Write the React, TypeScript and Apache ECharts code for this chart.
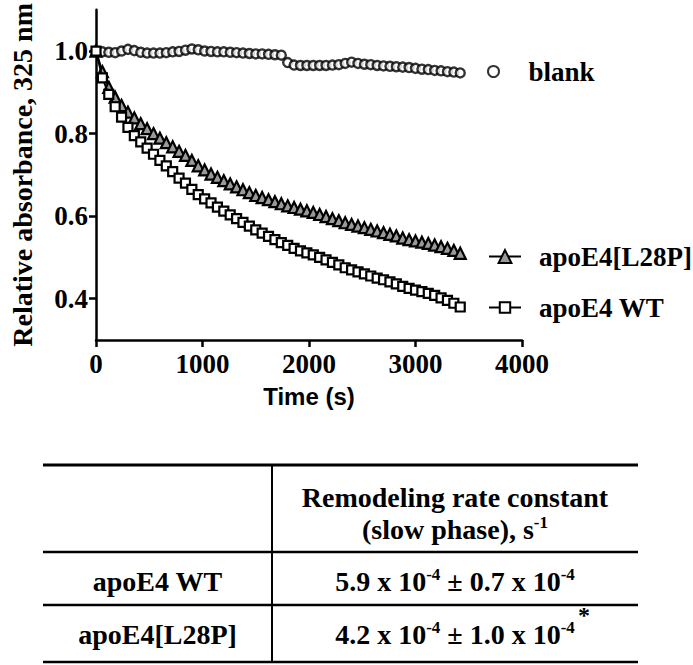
import React, { useEffect, useRef } from "react";
import * as echarts from "echarts";

const timeS = [
  0, 60, 120, 180, 240, 300, 360, 420, 480, 540, 600, 660, 720, 780, 840, 900, 960, 1020, 1080, 1140,
  1200, 1260, 1320, 1380, 1440, 1500, 1560, 1620, 1680, 1740, 1800, 1860, 1920, 1980, 2040, 2100, 2160,
  2220, 2280, 2340, 2400, 2460, 2520, 2580, 2640, 2700, 2760, 2820, 2880, 2940, 3000, 3060, 3120, 3180,
  3240, 3300, 3360, 3420,
];

const blankValues = [
  1.0, 0.998, 0.997, 0.996, 1.0, 1.004, 1.001, 0.997, 0.995, 0.995, 0.995, 0.996, 0.998, 0.999, 1.002,
  1.005, 1.003, 1.0, 0.999, 0.998, 0.998, 0.997, 0.996, 0.995, 0.994, 0.993, 0.993, 0.992, 0.991, 0.99,
  0.972, 0.966, 0.965, 0.965, 0.965, 0.965, 0.965, 0.966, 0.967, 0.97, 0.973, 0.97, 0.968, 0.967, 0.965,
  0.964, 0.963, 0.962, 0.961, 0.96, 0.958, 0.956, 0.955, 0.953, 0.952, 0.95, 0.949, 0.947,
];

const l28pValues = [
  1.0, 0.95, 0.912, 0.888, 0.868, 0.852, 0.838, 0.824, 0.812, 0.8, 0.789, 0.778, 0.768, 0.757, 0.747,
  0.735, 0.722, 0.712, 0.702, 0.694, 0.686, 0.678, 0.671, 0.664, 0.657, 0.65, 0.645, 0.64, 0.635, 0.63,
  0.625, 0.621, 0.617, 0.613, 0.609, 0.604, 0.599, 0.594, 0.589, 0.584, 0.58, 0.576, 0.572, 0.568, 0.564,
  0.56, 0.556, 0.552, 0.547, 0.543, 0.54, 0.537, 0.534, 0.53, 0.526, 0.522, 0.517, 0.51,
];

const wtValues = [
  1.0, 0.935, 0.895, 0.865, 0.84, 0.815, 0.795, 0.78, 0.765, 0.75, 0.735, 0.722, 0.708, 0.692, 0.68,
  0.665, 0.652, 0.642, 0.632, 0.622, 0.612, 0.603, 0.594, 0.585, 0.576, 0.567, 0.559, 0.551, 0.543,
  0.536, 0.529, 0.522, 0.516, 0.511, 0.506, 0.5, 0.494, 0.488, 0.482, 0.475, 0.47, 0.465, 0.46, 0.455,
  0.45, 0.446, 0.441, 0.436, 0.43, 0.425, 0.421, 0.417, 0.413, 0.408, 0.402, 0.396, 0.389, 0.38,
];

const yTickValues = [0.4, 0.6, 0.8, 1.0];
const seriesNames = ["blank", "apoE4[L28P]", "apoE4 WT"];

const tableHeader1 = "Remodeling rate constant";
const tableHeader2 = "(slow phase), s";
const tableRows = [
  { name: "apoE4 WT", value: "5.9 x 10", err: "0.7 x 10", star: false },
  { name: "apoE4[L28P]", value: "4.2 x 10", err: "1.0 x 10", star: true },
];

const SERIF = "'Liberation Serif', 'Times New Roman', serif";
const SANS = "'Liberation Sans', Arial, sans-serif";

function pairs(vals: number[]) {
  return timeS.map((t, i) => [t, vals[i]]);
}

export default function App() {
  const ref = useRef<HTMLDivElement>(null);
  useEffect(() => {
    if (!ref.current) return;
    const chart = echarts.init(ref.current, null, { renderer: "svg" });

    const legendText = {
      fontFamily: SERIF,
      fontWeight: "bold",
      fontSize: 27,
      color: "#000",
    };

    const tableLineY = [465, 552, 605, 662];
    const tblLeft = 43;
    const tblRight = 638;
    const tblDiv = 272;
    const col1 = (tblLeft + tblDiv) / 2;
    const col2 = (tblDiv + tblRight) / 2;
    const rowY = [581, 634];

    const richTbl = {
      a: { fontFamily: SERIF, fontWeight: "bold", fontSize: 28, lineHeight: 30, color: "#000" },
      s: { fontFamily: SERIF, fontWeight: "bold", fontSize: 17, lineHeight: 20, verticalAlign: "top", color: "#000" },
    };

    const graphics: any[] = [];
    tableLineY.forEach((y, i) => {
      graphics.push({
        type: "line",
        shape: { x1: tblLeft, y1: y, x2: tblRight, y2: y },
        style: { stroke: "#000", lineWidth: i === 0 ? 3 : 2.5 },
      });
    });
    graphics.push({
      type: "line",
      shape: { x1: tblDiv, y1: tableLineY[0], x2: tblDiv, y2: tableLineY[3] },
      style: { stroke: "#000", lineWidth: 2 },
    });
    graphics.push({
      type: "text",
      x: col2,
      y: 497,
      style: {
        text: tableHeader1,
        fontFamily: SERIF,
        fontWeight: "bold",
        fontSize: 28,
        fill: "#000",
        align: "center",
        verticalAlign: "middle",
      },
    });
    graphics.push({
      type: "text",
      x: col2,
      y: 529,
      style: {
        text: `{a|${tableHeader2}}{s|-1}`,
        rich: richTbl,
        align: "center",
        verticalAlign: "middle",
      },
    });
    tableRows.forEach((r, i) => {
      graphics.push({
        type: "text",
        x: col1,
        y: rowY[i],
        style: {
          text: r.name,
          fontFamily: SERIF,
          fontWeight: "bold",
          fontSize: 28,
          fill: "#000",
          align: "center",
          verticalAlign: "middle",
        },
      });
      graphics.push({
        type: "text",
        x: col2,
        y: rowY[i],
        style: {
          text: `{a|${r.value}}{s|-4}{a| ± ${r.err}}{s|-4}`,
          rich: richTbl,
          align: "center",
          verticalAlign: "middle",
        },
      });
      if (r.star) {
        graphics.push({
          type: "text",
          x: 584,
          y: rowY[i] - 19,
          style: {
            text: "*",
            fontFamily: SERIF,
            fontWeight: "bold",
            fontSize: 24,
            fill: "#000",
            align: "center",
            verticalAlign: "middle",
          },
        });
      }
    });

    chart.setOption({
      animation: false,
      backgroundColor: "#fff",
      grid: { left: 88, right: 171, top: 9, bottom: 325, containLabel: false },
      xAxis: {
        type: "value",
        min: 0,
        max: 4000,
        interval: 1000,
        name: "Time (s)",
        nameLocation: "middle",
        nameGap: 44,
        nameTextStyle: { fontFamily: SANS, fontWeight: "bold", fontSize: 24, color: "#000" },
        axisLine: { show: true, lineStyle: { color: "#000", width: 2.5 } },
        axisTick: { show: true, length: 7, lineStyle: { color: "#000", width: 2.5 } },
        axisLabel: {
          formatter: (v: number) => String(v),
          fontFamily: SERIF,
          fontWeight: "bold",
          fontSize: 27,
          color: "#000",
          margin: 10,
        },
        splitLine: { show: false },
      },
      yAxis: {
        type: "value",
        min: 0.3,
        max: 1.1,
        name: "Relative absorbance, 325 nm",
        nameLocation: "middle",
        nameGap: 60,
        nameTextStyle: { fontFamily: SERIF, fontWeight: "bold", fontSize: 28, color: "#000" },
        axisLine: { show: true, lineStyle: { color: "#000", width: 2.5 } },
        axisTick: { show: true, length: 7, customValues: yTickValues, lineStyle: { color: "#000", width: 2.5 } },
        axisLabel: {
          customValues: yTickValues,
          formatter: (v: number) => v.toFixed(1),
          fontFamily: SERIF,
          fontWeight: "bold",
          fontSize: 27,
          color: "#000",
          margin: 8,
        },
        splitLine: { show: false },
      },
      legend: [
        {
          data: [seriesNames[0]],
          left: 487,
          top: 58,
          padding: 0,
          itemWidth: 30,
          itemHeight: 11,
          textStyle: { ...legendText, padding: [0, 0, 0, 15] },
          selectedMode: false,
        },
        {
          data: [seriesNames[1]],
          left: 488,
          top: 243,
          padding: 0,
          itemWidth: 32,
          itemHeight: 16,
          textStyle: { ...legendText, padding: [0, 0, 0, 13] },
          selectedMode: false,
        },
        {
          data: [seriesNames[2]],
          left: 488,
          top: 294,
          padding: 0,
          itemWidth: 32,
          itemHeight: 13,
          textStyle: { ...legendText, padding: [0, 0, 0, 13] },
          selectedMode: false,
        },
      ],
      series: [
        {
          name: seriesNames[0],
          type: "scatter",
          data: pairs(blankValues),
          symbol: "circle",
          symbolSize: 9,
          itemStyle: { color: "#fff", borderColor: "#000", borderWidth: 2.4 },
          z: 2,
        },
        {
          name: seriesNames[1],
          type: "line",
          data: pairs(l28pValues),
          symbol: "triangle",
          symbolSize: 11,
          showAllSymbol: true,
          lineStyle: { color: "#000", width: 2 },
          itemStyle: { color: "#999", borderColor: "#000", borderWidth: 2.2 },
          z: 3,
        },
        {
          name: seriesNames[2],
          type: "line",
          data: pairs(wtValues),
          symbol: "rect",
          symbolSize: 9,
          showAllSymbol: true,
          lineStyle: { color: "#000", width: 2 },
          itemStyle: { color: "#fff", borderColor: "#000", borderWidth: 2.2 },
          z: 4,
        },
      ],
      graphic: graphics,
    });

    return () => chart.dispose();
  }, []);

  return (
    <div
      ref={ref}
      style={{ position: "absolute", left: 0, top: 0, width: 693, height: 665, background: "#fff" }}
    />
  );
}
